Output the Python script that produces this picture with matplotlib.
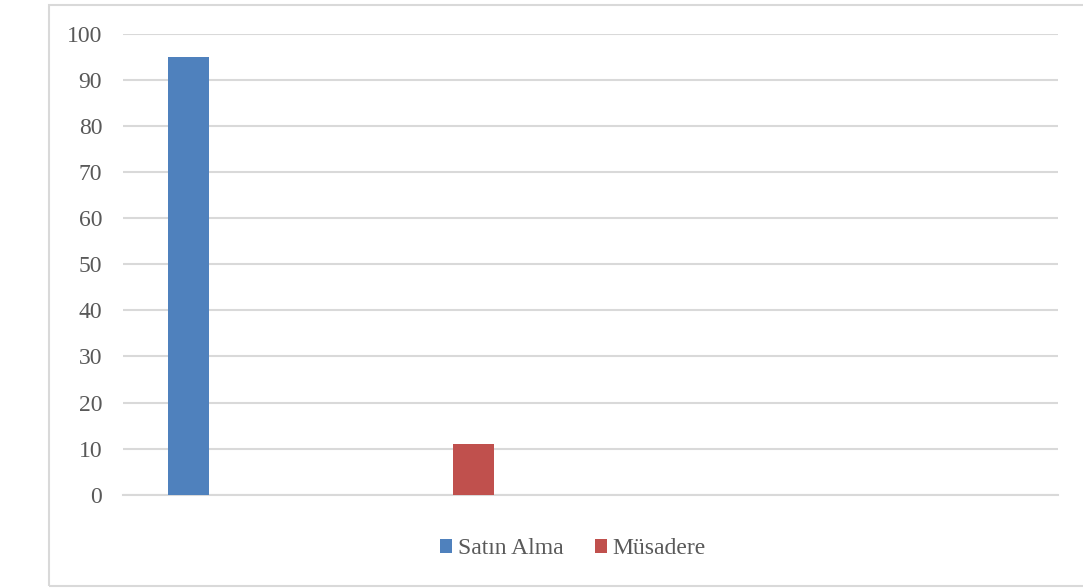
import matplotlib.pyplot as plt
from matplotlib.patches import Rectangle, Patch
import numpy as np

series = ["Satın Alma", "Müsadere"]
values = [95, 11]
colors = ["#4F81BD", "#C0504D"]
yticks = [0, 10, 20, 30, 40, 50, 60, 70, 80, 90, 100]

plt.rcParams['font.family'] = ['Liberation Serif', 'DejaVu Serif']
grid_col = "#D9D9D9"
text_col = "#595959"

fig = plt.figure(figsize=(10.83, 5.88), dpi=100)
fig.patches.append(Rectangle((49 / 1083, 2 / 588), 1.0, 581 / 588, transform=fig.transFigure,
                             fill=False, edgecolor=grid_col, linewidth=1.5, zorder=0))

ax = fig.add_axes([123 / 1083, 1 - 494.7 / 588, 935 / 1083, 460.7 / 588])
x = np.arange(len(series))
ax.bar(x, values, width=0.144, color=colors, zorder=3)

ax.set_xlim(-0.23, 3.05)
ax.set_ylim(0, 100)
ax.set_yticks(yticks)
ax.set_xticks([])
ax.yaxis.grid(True, color=grid_col, linewidth=1.5, zorder=0)
ax.set_axisbelow(True)
for s in ["top", "right", "left"]:
    ax.spines[s].set_visible(False)
ax.spines["bottom"].set_color(grid_col)
ax.spines["bottom"].set_linewidth(1.5)
ax.tick_params(axis="y", length=0, pad=15, labelsize=17, labelcolor=text_col)

handles = [Patch(facecolor=c, edgecolor="none", label=s) for s, c in zip(series, colors)]
fig.legend(handles=handles, loc="center", bbox_to_anchor=(573 / 1083, 1 - 549 / 588), ncol=2,
           frameon=False, fontsize=17, labelcolor=text_col, handlelength=0.52, handleheight=0.52,
           handletextpad=0.25, columnspacing=1.3)

fig.savefig("out.png", dpi=100)
